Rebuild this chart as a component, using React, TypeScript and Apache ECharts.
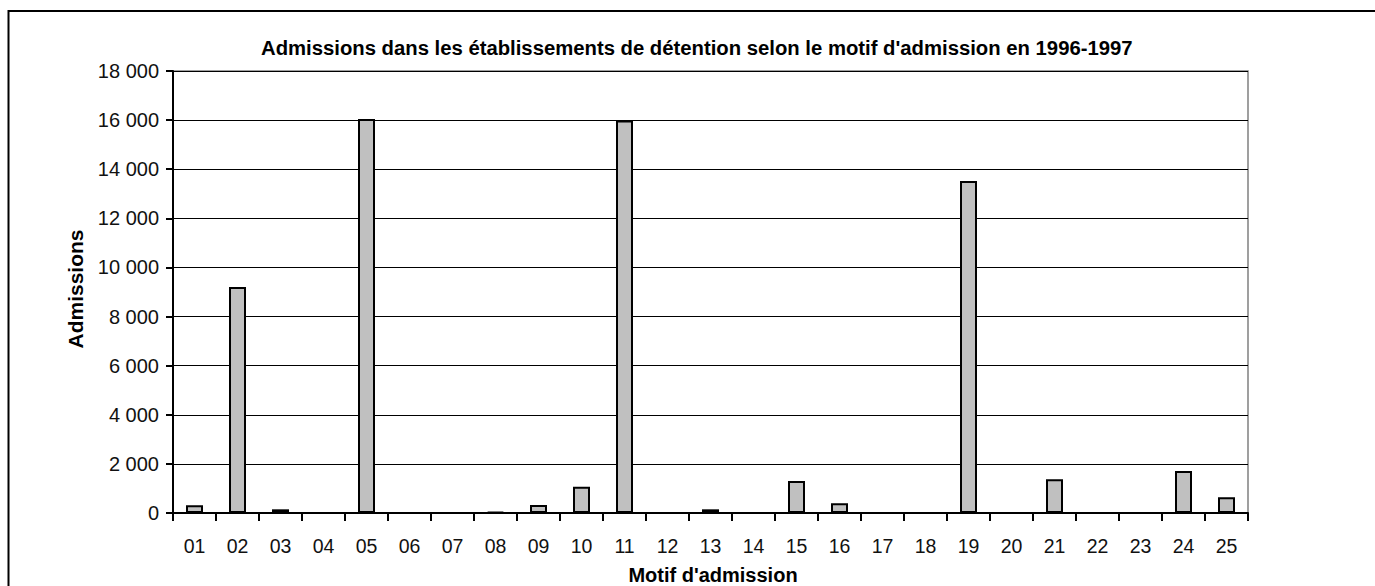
import React, { useEffect, useRef } from "react";
import * as echarts from "echarts";

const categories = ["01","02","03","04","05","06","07","08","09","10","11","12","13","14","15","16","17","18","19","20","21","22","23","24","25"];
const admissions = [320, 9200, 150, 0, 16050, 0, 0, 50, 330, 1070, 15980, 0, 150, 0, 1300, 400, 0, 0, 13520, 0, 1370, 0, 0, 1710, 640];
const yTicks = [0, 2000, 4000, 6000, 8000, 10000, 12000, 14000, 16000, 18000];

const titleText = "Admissions dans les établissements de détention selon le motif d'admission en 1996-1997";
const xName = "Motif d'admission";
const yName = "Admissions";

const fmt = (v: number) => {
  const s = String(Math.round(v));
  return s.replace(/\B(?=(\d{3})+(?!\d))/g, " ");
};

export default function App() {
  const ref = useRef<HTMLDivElement>(null);
  useEffect(() => {
    if (!ref.current) return;
    const chart = echarts.init(ref.current, null, { renderer: "svg" });
    const font = "Liberation Sans, Arial, sans-serif";
    chart.setOption({
      animation: false,
      backgroundColor: "#ffffff",
      title: {
        text: titleText,
        left: 256,
        top: 33,
        textStyle: { fontFamily: font, fontWeight: "bold", fontSize: 20.3, color: "#000" },
      },
      grid: {
        left: 173,
        top: 71,
        right: 127,
        bottom: 73,
        show: true,
        borderColor: "#808080",
        borderWidth: 1.5,
        backgroundColor: "#ffffff",
      },
      xAxis: {
        type: "category",
        data: categories,
        boundaryGap: true,
        axisLine: { lineStyle: { color: "#000", width: 2 } },
        axisTick: { show: true, alignWithLabel: false, length: 8, lineStyle: { color: "#000", width: 2 } },
        axisLabel: { color: "#111", fontFamily: font, fontSize: 19.5, margin: 23, interval: 0 },
        splitLine: { show: false },
      },
      yAxis: {
        type: "value",
        min: yTicks[0],
        max: yTicks[yTicks.length - 1],
        interval: 2000,
        axisLine: { show: true, lineStyle: { color: "#000", width: 2 } },
        axisTick: { show: true, length: 7, lineStyle: { color: "#000", width: 2 } },
        axisLabel: { color: "#111", fontFamily: font, fontSize: 20, margin: 14, formatter: (v: number) => fmt(v) },
        splitLine: { show: true, lineStyle: { color: "#000", width: 1 } },
      },
      series: [
        {
          type: "bar",
          data: admissions,
          barWidth: 17,
          itemStyle: { color: "#C0C0C0", borderColor: "#000", borderWidth: 2 },
        },
      ],
      graphic: [
        {
          type: "rect",
          shape: { x: 8.5, y: 11, width: 1400, height: 620 },
          style: { fill: "none", stroke: "#000", lineWidth: 2 },
          silent: true,
        },
        {
          type: "text",
          x: 75,
          y: 289,
          rotation: Math.PI / 2,
          style: {
            text: yName,
            fontFamily: font,
            fontWeight: "bold",
            fontSize: 21,
            fill: "#000",
            align: "center",
            verticalAlign: "middle",
          },
        },
        {
          type: "text",
          x: 713,
          y: 575,
          style: {
            text: xName,
            fontFamily: font,
            fontWeight: "bold",
            fontSize: 20,
            fill: "#000",
            align: "center",
            verticalAlign: "middle",
          },
        },
      ],
    });
    return () => chart.dispose();
  }, []);
  return (
    <div
      ref={ref}
      style={{ position: "absolute", left: 0, top: 0, width: 1375, height: 586 }}
    />
  );
}
